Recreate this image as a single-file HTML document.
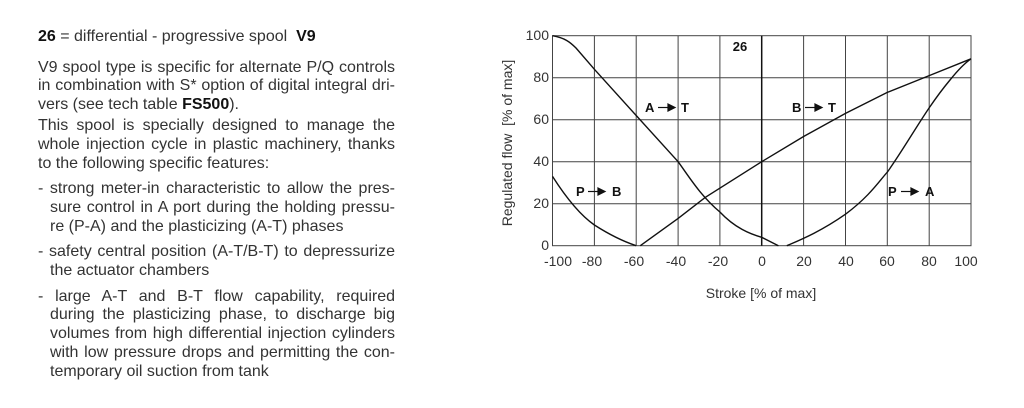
<!DOCTYPE html>
<html><head><meta charset="utf-8"><style>
body{margin:0;width:1024px;height:408px;background:#fff;overflow:hidden;font-family:"Liberation Sans",sans-serif;color:#333}
.l{position:absolute;left:38px;width:357px;font-size:16px;white-space:nowrap;line-height:18px}
.j{text-align:justify;text-align-last:justify;white-space:normal}
.i{left:50px;width:345px}
b{color:#111}
svg{position:absolute;left:0;top:0}
</style></head><body>
<div class="l" style="top:28px"><b>26</b> = differential - progressive spool&nbsp; <b>V9</b></div>
<div class="l j" style="top:59px">V9 spool type is specific for alternate P/Q controls</div>
<div class="l j" style="top:77px">in combination with S* option of digital integral dri-</div>
<div class="l" style="top:96px">vers (see tech table <b>FS500</b>).</div>
<div class="l j" style="top:117px">This spool is specially designed to manage the</div>
<div class="l j" style="top:136px">whole injection cycle in plastic machinery, thanks</div>
<div class="l" style="top:155px">to the following specific features:</div>
<div class="l j" style="top:180px">- strong meter-in characteristic to allow the pres-</div>
<div class="l j i" style="top:199px">sure control in A port during the holding pressu-</div>
<div class="l i" style="top:218px">re (P-A) and the plasticizing (A-T) phases</div>
<div class="l j" style="top:243px">- safety central position (A-T/B-T) to depressurize</div>
<div class="l i" style="top:262px">the actuator chambers</div>
<div class="l j" style="top:288px">- large A-T and B-T flow capability, required</div>
<div class="l j i" style="top:306px">during the plasticizing phase, to discharge big</div>
<div class="l j i" style="top:325px">volumes from high differential injection cylinders</div>
<div class="l j i" style="top:344px">with low pressure drops and permitting the con-</div>
<div class="l i" style="top:363px">temporary oil suction from tank</div>

<svg width="1024" height="408" viewBox="0 0 1024 408" font-family="Liberation Sans, sans-serif">
<g stroke="#444" stroke-width="1" fill="none">
<rect x="552.5" y="35.7" width="418.5" height="210"/>
<path d="M594.4 35.7V245.7M636.2 35.7V245.7M678.1 35.7V245.7M719.9 35.7V245.7M803.6 35.7V245.7M845.5 35.7V245.7M887.3 35.7V245.7M929.2 35.7V245.7M552.5 77.7H971M552.5 119.7H971M552.5 161.7H971M552.5 203.7H971"/>
</g>
<path d="M761.7 35.7V245.7" stroke="#111" stroke-width="1.5"/>
<g stroke="#111" stroke-width="1.4" fill="none">
<path d="M552.5 35.7 C565 38,570 42,576 48 L594.4 69.3 L636.2 115.5 L678.1 161.7 C690 178,700 195,719.9 212 C735 228,750 234,761.7 237.3 L778.4 245.7"/>
<path d="M552.5 176.4 C565 196,580 215,594.4 225 C610 235,625 242,636.2 245.7"/>
<path d="M640.3 245.7 L678.1 218.4 L705.2 197.4 L761.7 161.7 L803.6 136.5 L845.5 113.4 L887.3 92.4 L929.2 75.6 L971 58.8"/>
<path d="M786.8 245.7 C800 240,820 232,845.5 214.2 C870 196,880 180,887.3 172.2 C910 140,925 110,950 80 C958 70,965 63,971 58.8"/>
</g>
<g font-size="14" fill="#333">
<text x="549" y="40" text-anchor="end">100</text>
<text x="549" y="82" text-anchor="end">80</text>
<text x="549" y="124" text-anchor="end">60</text>
<text x="549" y="166" text-anchor="end">40</text>
<text x="549" y="208" text-anchor="end">20</text>
<text x="549" y="250" text-anchor="end">0</text>
<g text-anchor="middle">
<text x="558" y="266">-100</text><text x="592" y="266">-80</text><text x="634" y="266">-60</text><text x="676" y="266">-40</text><text x="718" y="266">-20</text><text x="762" y="266">0</text><text x="804" y="266">20</text><text x="846" y="266">40</text><text x="887" y="266">60</text><text x="929" y="266">80</text><text x="966" y="266">100</text>
</g>
<text x="761" y="298" text-anchor="middle">Stroke [% of max]</text>
<text transform="translate(512,143) rotate(-90)" text-anchor="middle">Regulated flow&nbsp; [% of max]</text>
</g>
<g font-size="13" font-weight="bold" fill="#111">
<text x="740" y="51" text-anchor="middle">26</text>
<text x="645" y="112">A</text><text x="681" y="112">T</text>
<text x="792" y="112">B</text><text x="828" y="112">T</text>
<text x="576" y="196">P</text><text x="612" y="196">B</text>
<text x="888" y="196">P</text><text x="925" y="196">A</text>
</g>
<g stroke="#111" stroke-width="1.2" fill="#111">
<path d="M658 107.5H668"/><path d="M668 104L675 107.5L668 111Z"/>
<path d="M805 107.5H815"/><path d="M815 104L822 107.5L815 111Z"/>
<path d="M588 191.5H598"/><path d="M598 188L605 191.5L598 195Z"/>
<path d="M901 191.5H911"/><path d="M911 188L918 191.5L911 195Z"/>
</g>
</svg>
</body></html>
